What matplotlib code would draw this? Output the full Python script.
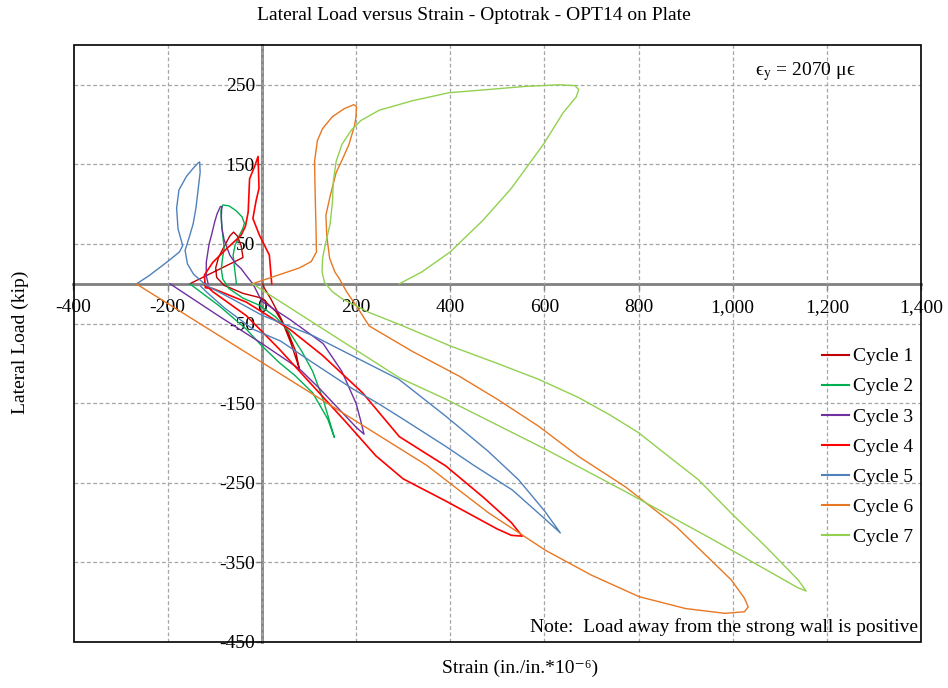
import matplotlib
matplotlib.use("Agg")
import matplotlib.pyplot as plt
from matplotlib.patches import Rectangle
from matplotlib.ticker import FuncFormatter

plt.rcParams['font.family'] = ['Liberation Serif', 'DejaVu Serif']
plt.rcParams['mathtext.fontset'] = 'stix'

# ---- data: strain (micro-strain) and lateral load (kip) for each cycle ----
c1_strain = [-153, -40, -44, -52, -60, -68, -80, -92, -98, -96, -80, -40, 0, 30, 55, 72, 80,
             76, 62, 42, 20, 5, 2]
c1_load = [0, 33, 48, 60, 65, 60, 47, 33, 20, 8, -2, -12, -18, -35, -60, -85, -108,
           -100, -75, -45, -20, -5, 0]

c2_strain = [-54, -58, -61, -57, -50, -40, -37, -42, -55, -70, -83, -87, -86, -83, -80, -84,
             -86, -83, -70, -40, -5, 30, 58, 85, 108, 130, 145, 154, 140, 108, 70, 37, 0,
             -33, -90, -153]
c2_load = [0, 20, 36, 48, 58, 70, 76, 84, 92, 98, 99, 92, 80, 61, 45, 30,
           18, 6, -6, -18, -27, -42, -60, -85, -110, -145, -175, -193, -170, -137, -115, -99, -78,
           -57, -28, 0]

c3_strain = [-114, -118, -118, -112, -107, -100, -95, -88, -85, -86, -85, -80, -68, -55, -44,
             -30, -19, 0, 60, 130, 170, 200, 210, 217, 200, 160, 120, 80, 0, -90, -195]
c3_load = [0, 10, 27, 50, 61, 78, 88, 97, 97, 85, 70, 55, 36, 25, 19,
           8, 0, -22, -45, -75, -110, -150, -172, -189, -180, -155, -130, -107, -75, -41, 0]

c4_strain = [21, 16, -5, -19, -12, -6, -8, -15, -26, -29, -35, -44, -75, -104, -122, -120,
             -104, -33, 59, 129, 214, 292, 391, 470, 530, 553, 530, 500, 391, 300, 242, 179,
             108, 37, -33, -104, -122]
c4_load = [0, 36, 61, 82, 105, 120, 160, 148, 132, 90, 72, 61, 44, 27, 11, -5,
           -6, -23, -57, -90, -137, -192, -229, -268, -300, -317, -316, -308, -273, -245, -216, -174,
           -128, -82, -40, -10, 0]

c5_strain = [-266, -240, -200, -175, -168, -178, -181, -176, -160, -146, -135, -132, -131, -135,
             -140, -146, -155, -163, -158, -145, -118, -60, 2, 108, 221, 291, 390, 480, 545,
             600, 634, 610, 532, 450, 390, 300, 249, 193, 108, 40, -19, -80, -118, -130]
c5_load = [0, 10, 28, 40, 48, 69, 95, 118, 135, 145, 152, 153, 140, 120,
           95, 75, 57, 42, 25, 12, -2, -20, -40, -65, -99, -120, -166, -210, -246,
           -285, -313, -300, -259, -228, -204, -170, -151, -132, -99, -72, -57, -30, -10, -3]

c6_strain = [-20, 30, 80, 105, 116, 115, 113, 112, 118, 129, 150, 175, 195, 201, 200, 197, 185,
             170, 158, 145, 136, 138, 144, 155, 165, 180, 201, 228, 320, 419, 500, 588, 673,
             772, 880, 950, 997, 1025, 1033, 1025, 984, 900, 801, 700, 603, 482, 350, -267]
c6_load = [0, 10, 20, 28, 40, 70, 120, 154, 180, 195, 210, 220, 225, 223, 210, 199, 175,
           155, 140, 110, 86, 60, 32, 15, 6, -10, -28, -53, -85, -116, -145, -179, -217,
           -255, -305, -345, -372, -395, -406, -412, -414, -408, -393, -366, -335, -288, -228, 0]

c7_strain = [292, 340, 400, 470, 530, 599, 640, 668, 673, 665, 631, 560, 480, 397, 320, 249,
             210, 190, 170, 158, 152, 150, 145, 135, 129, 128, 133, 150, 171, 228, 300, 400,
             500, 588, 673, 740, 800, 860, 927, 1000, 1070, 1139, 1156, 1139, 960, 772, 603,
             391, 292, -20]
c7_load = [0, 15, 40, 80, 120, 176, 215, 235, 244, 249, 250, 248, 244, 240, 230, 218,
           205, 193, 175, 154, 130, 103, 75, 50, 32, 15, 2, -10, -19, -36, -53, -78,
           -100, -120, -143, -165, -187, -215, -246, -290, -330, -372, -386, -382, -322, -261, -208,
           -145, -118, 0]

cycle_labels = ["Cycle 1", "Cycle 2", "Cycle 3", "Cycle 4", "Cycle 5", "Cycle 6", "Cycle 7"]
cycle_colors = ["#C00000", "#00B050", "#7030A0", "#FF0000", "#4F81BD", "#E87722", "#92D050"]
cycle_widths = [1.0, 1.0, 1.0, 1.2, 1.0, 1.0, 1.0]

x_ticks = [-400, -200, 0, 200, 400, 600, 800, 1000, 1200, 1400]
y_ticks = [-450, -350, -250, -150, -50, 50, 150, 250]

series = [(c1_strain, c1_load), (c2_strain, c2_load), (c3_strain, c3_load),
          (c4_strain, c4_load), (c5_strain, c5_load), (c6_strain, c6_load),
          (c7_strain, c7_load)]

fig = plt.figure(figsize=(9.48, 6.88), dpi=100)
ax = fig.add_axes([73.5 / 948, 46 / 688, (921 - 73.5) / 948, (643 - 46) / 688])

ax.set_xlim(-400, 1400)
ax.set_ylim(-450, 300)

# dashed grid
ax.set_xticks(x_ticks)
ax.set_yticks(y_ticks)
ax.grid(True, color="#A6A6A6", linestyle=(0, (3, 2)), linewidth=0.9, zorder=0)

# axes crossing at zero
for side in ("left", "bottom"):
    ax.spines[side].set_position(("data", 0))
    ax.spines[side].set_color("#808080")
    ax.spines[side].set_linewidth(2.0)
    ax.spines[side].set_zorder(1)
for side in ("top", "right"):
    ax.spines[side].set_visible(False)

ax.add_patch(Rectangle((0, 0), 1, 1, transform=ax.transAxes, fill=False,
                       edgecolor="black", linewidth=1.2, clip_on=False, zorder=5))

ax.tick_params(axis="both", which="major", labelsize=14, color="#808080", length=4, width=1)
ax.tick_params(axis="x", pad=7)
ax.tick_params(axis="y", pad=1)
ax.xaxis.set_major_formatter(FuncFormatter(lambda v, p: f"{int(v):,}"))
ax.yaxis.set_major_formatter(FuncFormatter(lambda v, p: f"{int(v)}"))

for (sx, sy), lab, col, lw in zip(series, cycle_labels, cycle_colors, cycle_widths):
    ax.plot(sx, sy, color=col, linewidth=lw, label=lab, zorder=3, solid_joinstyle="round")

leg = ax.legend(loc="upper right", bbox_to_anchor=(921 / 948, (688 - 340) / 688),
                bbox_transform=fig.transFigure, frameon=False, fontsize=14,
                handlelength=1.4, handletextpad=0.2, labelspacing=0.64, borderaxespad=0)
for line in leg.get_lines():
    line.set_linewidth(1.5)

fig.text(0.5, 1 - 15 / 688, "Lateral Load versus Strain - Optotrak - OPT14 on Plate",
         ha="center", va="center", fontsize=14)
fig.text(20 / 948, 1 - 342 / 688, "Lateral Load (kip)", rotation=90,
         ha="center", va="center", fontsize=14)
fig.text(520 / 948, 1 - 668 / 688, "Strain (in./in.*10\u207b\u2076)",
         ha="center", va="center", fontsize=14)
ax.text(0.864, 0.955, "\u03f5$_{\\mathrm{y}}$ = 2070 \u03bc\u03f5", transform=ax.transAxes,
        ha="center", va="center", fontsize=14)
ax.text(0.996, 0.025, "Note:  Load away from the strong wall is positive",
        transform=ax.transAxes, ha="right", va="center", fontsize=14)

fig.savefig("out.png", dpi=100)
